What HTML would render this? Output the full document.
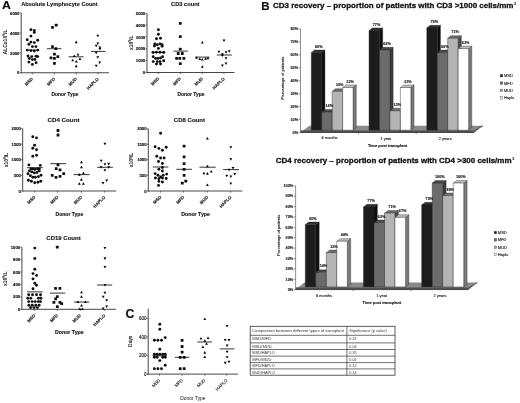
<!DOCTYPE html><html><head><meta charset="utf-8"><style>html,body{margin:0;padding:0;background:#fff;}svg{display:block;will-change:transform;filter:blur(0.3px);}.b{stroke:#111;stroke-width:0.12px;}.T{stroke:#111;stroke-width:0.3px;}.L{stroke:#000;stroke-width:0.15px;}.m{stroke:#111;stroke-width:0.1px;}</style></head><body>
<svg width="520" height="403" viewBox="0 0 520 403" font-family='"Liberation Sans", sans-serif' fill="#111">
<rect x="0" y="0" width="520" height="403" fill="#fff"/>
<text x="1.9" y="8.9" font-size="11" font-weight="bold" class="L" textLength="8.9" lengthAdjust="spacingAndGlyphs">A</text>
<text x="261.2" y="9.6" font-size="10.7" font-weight="bold" class="L" textLength="8.3" lengthAdjust="spacingAndGlyphs">B</text>
<text x="125.4" y="318.0" font-size="12.2" font-weight="bold" class="L">C</text>
<line x1="21.20" y1="12.90" x2="21.20" y2="73.15" stroke="#333" stroke-width="0.9"/>
<line x1="20.80" y1="72.75" x2="109.00" y2="72.75" stroke="#333" stroke-width="0.9"/>
<line x1="19.60" y1="12.90" x2="21.20" y2="12.90" stroke="#333" stroke-width="0.7"/>
<text x="19.40" y="14.50" font-size="4.2" text-anchor="end" font-weight="bold" class="b" fill="#000">6000</text>
<line x1="19.60" y1="33.00" x2="21.20" y2="33.00" stroke="#333" stroke-width="0.7"/>
<text x="19.40" y="34.60" font-size="4.2" text-anchor="end" font-weight="bold" class="b" fill="#000">4000</text>
<line x1="19.60" y1="52.90" x2="21.20" y2="52.90" stroke="#333" stroke-width="0.7"/>
<text x="19.40" y="54.50" font-size="4.2" text-anchor="end" font-weight="bold" class="b" fill="#000">2000</text>
<line x1="19.60" y1="72.75" x2="21.20" y2="72.75" stroke="#333" stroke-width="0.7"/>
<text x="19.40" y="74.35" font-size="4.2" text-anchor="end" font-weight="bold" class="b" fill="#000">0</text>
<line x1="32.30" y1="72.75" x2="32.30" y2="74.35" stroke="#333" stroke-width="0.7"/>
<text x="33.30" y="79.35" font-size="4.3" text-anchor="end" font-weight="bold" class="b" transform="rotate(-45 33.30 79.35)">MSD</text>
<line x1="54.40" y1="72.75" x2="54.40" y2="74.35" stroke="#333" stroke-width="0.7"/>
<text x="55.40" y="79.35" font-size="4.3" text-anchor="end" font-weight="bold" class="b" transform="rotate(-45 55.40 79.35)">MFD</text>
<line x1="76.20" y1="72.75" x2="76.20" y2="74.35" stroke="#333" stroke-width="0.7"/>
<text x="77.20" y="79.35" font-size="4.3" text-anchor="end" font-weight="bold" class="b" transform="rotate(-45 77.20 79.35)">MUD</text>
<line x1="98.10" y1="72.75" x2="98.10" y2="74.35" stroke="#333" stroke-width="0.7"/>
<text x="99.10" y="79.35" font-size="4.3" text-anchor="end" font-weight="bold" class="b" transform="rotate(-45 99.10 79.35)">HAPLO</text>
<text x="21.20" y="6.20" font-size="6" text-anchor="start" font-weight="bold" class="b" textLength="76.50" lengthAdjust="spacingAndGlyphs">Absolute Lymphocyte Count</text>
<text x="0" y="0" font-size="4.6" font-weight="bold" text-anchor="middle" textLength="25.00" lengthAdjust="spacingAndGlyphs" transform="translate(6.60 42.00) rotate(-90)">ALCx10<tspan font-size="3" dy="-1.6">9</tspan><tspan dy="1.6">/L</tspan></text>
<text x="51.50" y="96.00" font-size="5.2" text-anchor="start" font-weight="bold" class="b" textLength="27.00" lengthAdjust="spacingAndGlyphs">Donor Type</text>
<circle cx="30.90" cy="29.70" r="1.45"/>
<circle cx="34.30" cy="30.50" r="1.45"/>
<circle cx="34.30" cy="32.40" r="1.45"/>
<circle cx="30.90" cy="36.10" r="1.45"/>
<circle cx="27.20" cy="39.80" r="1.45"/>
<circle cx="30.90" cy="42.10" r="1.45"/>
<circle cx="34.30" cy="42.60" r="1.45"/>
<circle cx="37.70" cy="40.20" r="1.45"/>
<circle cx="28.90" cy="44.20" r="1.45"/>
<circle cx="32.40" cy="46.60" r="1.45"/>
<circle cx="35.90" cy="46.60" r="1.45"/>
<circle cx="27.20" cy="50.10" r="1.45"/>
<circle cx="30.90" cy="50.60" r="1.45"/>
<circle cx="34.30" cy="51.00" r="1.45"/>
<circle cx="37.70" cy="50.10" r="1.45"/>
<circle cx="28.00" cy="56.00" r="1.45"/>
<circle cx="31.80" cy="56.60" r="1.45"/>
<circle cx="36.10" cy="56.20" r="1.45"/>
<circle cx="37.70" cy="56.60" r="1.45"/>
<circle cx="29.30" cy="58.40" r="1.45"/>
<circle cx="32.40" cy="59.60" r="1.45"/>
<circle cx="34.90" cy="59.40" r="1.45"/>
<circle cx="28.90" cy="62.10" r="1.45"/>
<circle cx="32.40" cy="64.40" r="1.45"/>
<circle cx="36.10" cy="62.80" r="1.45"/>
<rect x="51.10" y="26.00" width="2.80" height="2.80" rx="0.5"/>
<rect x="54.80" y="23.80" width="2.80" height="2.80" rx="0.5"/>
<rect x="51.10" y="45.20" width="2.80" height="2.80" rx="0.5"/>
<rect x="54.50" y="47.30" width="2.80" height="2.80" rx="0.5"/>
<rect x="53.00" y="52.70" width="2.80" height="2.80" rx="0.5"/>
<rect x="49.60" y="56.40" width="2.80" height="2.80" rx="0.5"/>
<rect x="56.40" y="55.20" width="2.80" height="2.80" rx="0.5"/>
<rect x="53.00" y="57.00" width="2.80" height="2.80" rx="0.5"/>
<rect x="53.00" y="62.00" width="2.80" height="2.80" rx="0.5"/>
<polygon points="76.20,40.60 77.62,43.15 74.78,43.15" fill="#000"/>
<polygon points="74.30,54.40 75.72,56.95 72.88,56.95" fill="#000"/>
<polygon points="78.00,52.90 79.42,55.45 76.58,55.45" fill="#000"/>
<polygon points="72.70,58.80 74.12,61.35 71.28,61.35" fill="#000"/>
<polygon points="76.40,60.00 77.83,62.55 74.98,62.55" fill="#000"/>
<polygon points="79.90,57.50 81.33,60.05 78.48,60.05" fill="#000"/>
<polygon points="76.20,64.60 77.62,67.15 74.78,67.15" fill="#000"/>
<polygon points="97.80,37.20 99.22,34.65 96.38,34.65" fill="#000"/>
<polygon points="97.80,45.00 99.22,42.45 96.38,42.45" fill="#000"/>
<polygon points="96.20,47.30 97.62,44.75 94.78,44.75" fill="#000"/>
<polygon points="99.90,49.00 101.33,46.45 98.48,46.45" fill="#000"/>
<polygon points="99.90,50.60 101.33,48.05 98.48,48.05" fill="#000"/>
<polygon points="96.20,54.30 97.62,51.75 94.78,51.75" fill="#000"/>
<polygon points="97.80,58.70 99.22,56.15 96.38,56.15" fill="#000"/>
<polygon points="99.70,64.00 101.12,61.45 98.28,61.45" fill="#000"/>
<polygon points="96.20,67.30 97.62,64.75 94.78,64.75" fill="#000"/>
<line x1="26.00" y1="50.10" x2="39.20" y2="50.10" stroke="#000" stroke-width="0.8"/>
<line x1="47.00" y1="48.70" x2="61.50" y2="48.70" stroke="#000" stroke-width="0.8"/>
<line x1="68.70" y1="56.80" x2="83.60" y2="56.80" stroke="#000" stroke-width="0.8"/>
<line x1="91.00" y1="51.40" x2="105.60" y2="51.40" stroke="#000" stroke-width="0.8"/>
<line x1="147.00" y1="13.40" x2="147.00" y2="72.90" stroke="#333" stroke-width="0.9"/>
<line x1="146.60" y1="72.50" x2="234.50" y2="72.50" stroke="#333" stroke-width="0.9"/>
<line x1="145.40" y1="13.40" x2="147.00" y2="13.40" stroke="#333" stroke-width="0.7"/>
<text x="145.20" y="15.00" font-size="4.2" text-anchor="end" font-weight="bold" class="b" fill="#000">5000</text>
<line x1="145.40" y1="25.20" x2="147.00" y2="25.20" stroke="#333" stroke-width="0.7"/>
<text x="145.20" y="26.80" font-size="4.2" text-anchor="end" font-weight="bold" class="b" fill="#000">4000</text>
<line x1="145.40" y1="37.00" x2="147.00" y2="37.00" stroke="#333" stroke-width="0.7"/>
<text x="145.20" y="38.60" font-size="4.2" text-anchor="end" font-weight="bold" class="b" fill="#000">3000</text>
<line x1="145.40" y1="48.80" x2="147.00" y2="48.80" stroke="#333" stroke-width="0.7"/>
<text x="145.20" y="50.40" font-size="4.2" text-anchor="end" font-weight="bold" class="b" fill="#000">2000</text>
<line x1="145.40" y1="60.60" x2="147.00" y2="60.60" stroke="#333" stroke-width="0.7"/>
<text x="145.20" y="62.20" font-size="4.2" text-anchor="end" font-weight="bold" class="b" fill="#000">1000</text>
<line x1="145.40" y1="72.40" x2="147.00" y2="72.40" stroke="#333" stroke-width="0.7"/>
<text x="145.20" y="74.00" font-size="4.2" text-anchor="end" font-weight="bold" class="b" fill="#000">0</text>
<line x1="158.40" y1="72.50" x2="158.40" y2="74.10" stroke="#333" stroke-width="0.7"/>
<text x="159.40" y="79.10" font-size="4.3" text-anchor="end" font-weight="bold" class="b" transform="rotate(-45 159.40 79.10)">MSD</text>
<line x1="180.30" y1="72.50" x2="180.30" y2="74.10" stroke="#333" stroke-width="0.7"/>
<text x="181.30" y="79.10" font-size="4.3" text-anchor="end" font-weight="bold" class="b" transform="rotate(-45 181.30 79.10)">MFD</text>
<line x1="202.30" y1="72.50" x2="202.30" y2="74.10" stroke="#333" stroke-width="0.7"/>
<text x="203.30" y="79.10" font-size="4.3" text-anchor="end" font-weight="bold" class="b" transform="rotate(-45 203.30 79.10)">MUD</text>
<line x1="224.00" y1="72.50" x2="224.00" y2="74.10" stroke="#333" stroke-width="0.7"/>
<text x="225.00" y="79.10" font-size="4.3" text-anchor="end" font-weight="bold" class="b" transform="rotate(-45 225.00 79.10)">HAPLO</text>
<text x="171.10" y="6.20" font-size="6" text-anchor="start" font-weight="bold" class="b" textLength="28.40" lengthAdjust="spacingAndGlyphs">CD3 count</text>
<text x="0" y="0" font-size="4.6" font-weight="bold" text-anchor="middle" textLength="14.50" lengthAdjust="spacingAndGlyphs" transform="translate(133.00 42.80) rotate(-90)">x10<tspan font-size="3" dy="-1.6">9</tspan><tspan dy="1.6">/L</tspan></text>
<text x="177.50" y="96.00" font-size="5.2" text-anchor="start" font-weight="bold" class="b" textLength="27.00" lengthAdjust="spacingAndGlyphs">Donor Type</text>
<circle cx="158.40" cy="29.70" r="1.45"/>
<circle cx="158.40" cy="34.20" r="1.45"/>
<circle cx="156.50" cy="38.70" r="1.45"/>
<circle cx="160.50" cy="38.20" r="1.45"/>
<circle cx="154.80" cy="43.90" r="1.45"/>
<circle cx="157.30" cy="44.70" r="1.45"/>
<circle cx="160.00" cy="43.90" r="1.45"/>
<circle cx="162.10" cy="44.70" r="1.45"/>
<circle cx="154.50" cy="46.00" r="1.45"/>
<circle cx="162.10" cy="46.30" r="1.45"/>
<circle cx="158.40" cy="48.40" r="1.45"/>
<circle cx="153.20" cy="52.50" r="1.45"/>
<circle cx="156.50" cy="52.30" r="1.45"/>
<circle cx="160.00" cy="52.30" r="1.45"/>
<circle cx="163.70" cy="52.50" r="1.45"/>
<circle cx="153.20" cy="56.80" r="1.45"/>
<circle cx="155.60" cy="58.40" r="1.45"/>
<circle cx="158.00" cy="58.40" r="1.45"/>
<circle cx="160.50" cy="58.00" r="1.45"/>
<circle cx="162.60" cy="56.80" r="1.45"/>
<circle cx="153.20" cy="61.60" r="1.45"/>
<circle cx="157.30" cy="61.60" r="1.45"/>
<circle cx="160.00" cy="61.60" r="1.45"/>
<circle cx="163.70" cy="60.80" r="1.45"/>
<circle cx="156.50" cy="64.00" r="1.45"/>
<circle cx="160.50" cy="64.00" r="1.45"/>
<rect x="178.90" y="22.00" width="2.80" height="2.80" rx="0.5"/>
<rect x="178.90" y="35.20" width="2.80" height="2.80" rx="0.5"/>
<rect x="178.90" y="47.80" width="2.80" height="2.80" rx="0.5"/>
<rect x="176.80" y="52.10" width="2.80" height="2.80" rx="0.5"/>
<rect x="180.90" y="52.10" width="2.80" height="2.80" rx="0.5"/>
<rect x="175.20" y="57.00" width="2.80" height="2.80" rx="0.5"/>
<rect x="178.40" y="57.00" width="2.80" height="2.80" rx="0.5"/>
<rect x="182.50" y="57.00" width="2.80" height="2.80" rx="0.5"/>
<rect x="178.90" y="62.30" width="2.80" height="2.80" rx="0.5"/>
<polygon points="202.30,40.90 203.73,43.45 200.88,43.45" fill="#000"/>
<polygon points="196.60,56.20 198.03,58.75 195.17,58.75" fill="#000"/>
<polygon points="199.80,57.50 201.23,60.05 198.38,60.05" fill="#000"/>
<polygon points="202.30,58.00 203.73,60.55 200.88,60.55" fill="#000"/>
<polygon points="205.50,57.20 206.93,59.75 204.07,59.75" fill="#000"/>
<polygon points="207.90,56.70 209.33,59.25 206.47,59.25" fill="#000"/>
<polygon points="202.30,65.30 203.73,67.85 200.88,67.85" fill="#000"/>
<polygon points="224.00,42.00 225.43,39.45 222.57,39.45" fill="#000"/>
<polygon points="218.90,53.30 220.33,50.75 217.47,50.75" fill="#000"/>
<polygon points="226.00,53.80 227.43,51.25 224.57,51.25" fill="#000"/>
<polygon points="229.20,52.80 230.62,50.25 227.77,50.25" fill="#000"/>
<polygon points="222.40,55.70 223.83,53.15 220.97,53.15" fill="#000"/>
<polygon points="222.40,57.00 223.83,54.45 220.97,54.45" fill="#000"/>
<polygon points="226.00,59.70 227.43,57.15 224.57,57.15" fill="#000"/>
<polygon points="226.00,65.00 227.43,62.45 224.57,62.45" fill="#000"/>
<polygon points="222.40,67.00 223.83,64.45 220.97,64.45" fill="#000"/>
<line x1="151.30" y1="52.30" x2="165.30" y2="52.30" stroke="#000" stroke-width="0.8"/>
<line x1="173.40" y1="51.10" x2="187.90" y2="51.10" stroke="#000" stroke-width="0.8"/>
<line x1="195.00" y1="57.10" x2="209.50" y2="57.10" stroke="#000" stroke-width="0.8"/>
<line x1="216.80" y1="55.00" x2="231.80" y2="55.00" stroke="#000" stroke-width="0.8"/>
<line x1="22.70" y1="128.70" x2="22.70" y2="191.40" stroke="#333" stroke-width="0.9"/>
<line x1="22.30" y1="191.00" x2="116.20" y2="191.00" stroke="#333" stroke-width="0.9"/>
<line x1="21.10" y1="128.70" x2="22.70" y2="128.70" stroke="#333" stroke-width="0.7"/>
<text x="20.90" y="130.30" font-size="4.2" text-anchor="end" font-weight="bold" class="b" fill="#000">2000</text>
<line x1="21.10" y1="144.20" x2="22.70" y2="144.20" stroke="#333" stroke-width="0.7"/>
<text x="20.90" y="145.80" font-size="4.2" text-anchor="end" font-weight="bold" class="b" fill="#000">1500</text>
<line x1="21.10" y1="159.70" x2="22.70" y2="159.70" stroke="#333" stroke-width="0.7"/>
<text x="20.90" y="161.30" font-size="4.2" text-anchor="end" font-weight="bold" class="b" fill="#000">1000</text>
<line x1="21.10" y1="175.30" x2="22.70" y2="175.30" stroke="#333" stroke-width="0.7"/>
<text x="20.90" y="176.90" font-size="4.2" text-anchor="end" font-weight="bold" class="b" fill="#000">500</text>
<line x1="21.10" y1="191.00" x2="22.70" y2="191.00" stroke="#333" stroke-width="0.7"/>
<text x="20.90" y="192.60" font-size="4.2" text-anchor="end" font-weight="bold" class="b" fill="#000">0</text>
<line x1="34.70" y1="191.00" x2="34.70" y2="192.60" stroke="#333" stroke-width="0.7"/>
<text x="35.70" y="197.60" font-size="4.3" text-anchor="end" font-weight="bold" class="b" transform="rotate(-45 35.70 197.60)">MSD</text>
<line x1="57.70" y1="191.00" x2="57.70" y2="192.60" stroke="#333" stroke-width="0.7"/>
<text x="58.70" y="197.60" font-size="4.3" text-anchor="end" font-weight="bold" class="b" transform="rotate(-45 58.70 197.60)">MFD</text>
<line x1="81.40" y1="191.00" x2="81.40" y2="192.60" stroke="#333" stroke-width="0.7"/>
<text x="82.40" y="197.60" font-size="4.3" text-anchor="end" font-weight="bold" class="b" transform="rotate(-45 82.40 197.60)">MUD</text>
<line x1="104.60" y1="191.00" x2="104.60" y2="192.60" stroke="#333" stroke-width="0.7"/>
<text x="105.60" y="197.60" font-size="4.3" text-anchor="end" font-weight="bold" class="b" transform="rotate(-45 105.60 197.60)">HAPLO</text>
<text x="47.50" y="121.90" font-size="6" text-anchor="start" font-weight="bold" class="b" textLength="32.00" lengthAdjust="spacingAndGlyphs">CD4 Count</text>
<text x="0" y="0" font-size="4.6" font-weight="bold" text-anchor="middle" textLength="14.50" lengthAdjust="spacingAndGlyphs" transform="translate(7.60 160.10) rotate(-90)">x10<tspan font-size="3" dy="-1.6">9</tspan><tspan dy="1.6">/L</tspan></text>
<text x="55.50" y="215.70" font-size="5.2" text-anchor="start" font-weight="bold" class="b" textLength="27.70" lengthAdjust="spacingAndGlyphs">Donor Type</text>
<circle cx="32.80" cy="136.70" r="1.45"/>
<circle cx="36.50" cy="137.90" r="1.45"/>
<circle cx="34.60" cy="145.30" r="1.45"/>
<circle cx="32.80" cy="148.30" r="1.45"/>
<circle cx="36.50" cy="149.80" r="1.45"/>
<circle cx="32.80" cy="156.20" r="1.45"/>
<circle cx="36.50" cy="155.20" r="1.45"/>
<circle cx="28.90" cy="164.90" r="1.45"/>
<circle cx="40.30" cy="165.40" r="1.45"/>
<circle cx="30.90" cy="168.90" r="1.45"/>
<circle cx="32.90" cy="168.90" r="1.45"/>
<circle cx="34.90" cy="169.40" r="1.45"/>
<circle cx="37.40" cy="168.90" r="1.45"/>
<circle cx="39.30" cy="168.90" r="1.45"/>
<circle cx="29.40" cy="170.90" r="1.45"/>
<circle cx="31.90" cy="171.90" r="1.45"/>
<circle cx="34.40" cy="172.90" r="1.45"/>
<circle cx="36.90" cy="172.40" r="1.45"/>
<circle cx="39.30" cy="170.90" r="1.45"/>
<circle cx="27.90" cy="173.80" r="1.45"/>
<circle cx="30.40" cy="175.80" r="1.45"/>
<circle cx="32.90" cy="177.30" r="1.45"/>
<circle cx="35.40" cy="177.30" r="1.45"/>
<circle cx="38.40" cy="176.80" r="1.45"/>
<circle cx="41.00" cy="175.30" r="1.45"/>
<circle cx="28.40" cy="180.30" r="1.45"/>
<circle cx="31.40" cy="181.30" r="1.45"/>
<circle cx="34.70" cy="182.80" r="1.45"/>
<circle cx="37.90" cy="182.30" r="1.45"/>
<circle cx="40.80" cy="181.30" r="1.45"/>
<rect x="56.60" y="129.10" width="2.80" height="2.80" rx="0.5"/>
<rect x="56.60" y="133.60" width="2.80" height="2.80" rx="0.5"/>
<rect x="56.60" y="163.50" width="2.80" height="2.80" rx="0.5"/>
<rect x="54.80" y="167.30" width="2.80" height="2.80" rx="0.5"/>
<rect x="58.60" y="168.50" width="2.80" height="2.80" rx="0.5"/>
<rect x="62.30" y="172.30" width="2.80" height="2.80" rx="0.5"/>
<rect x="50.80" y="173.90" width="2.80" height="2.80" rx="0.5"/>
<rect x="54.60" y="175.90" width="2.80" height="2.80" rx="0.5"/>
<rect x="58.60" y="174.90" width="2.80" height="2.80" rx="0.5"/>
<polygon points="81.40,160.80 82.83,163.35 79.98,163.35" fill="#000"/>
<polygon points="81.40,165.80 82.83,168.35 79.98,168.35" fill="#000"/>
<polygon points="83.40,171.70 84.83,174.25 81.98,174.25" fill="#000"/>
<polygon points="79.30,173.10 80.72,175.65 77.88,175.65" fill="#000"/>
<polygon points="81.40,178.10 82.83,180.65 79.98,180.65" fill="#000"/>
<polygon points="79.30,182.20 80.72,184.75 77.88,184.75" fill="#000"/>
<polygon points="83.40,182.20 84.83,184.75 81.98,184.75" fill="#000"/>
<polygon points="104.90,145.30 106.33,142.75 103.48,142.75" fill="#000"/>
<polygon points="101.20,162.30 102.62,159.75 99.78,159.75" fill="#000"/>
<polygon points="104.90,165.80 106.33,163.25 103.48,163.25" fill="#000"/>
<polygon points="108.70,165.40 110.12,162.85 107.28,162.85" fill="#000"/>
<polygon points="101.20,168.80 102.62,166.25 99.78,166.25" fill="#000"/>
<polygon points="108.70,168.80 110.12,166.25 107.28,166.25" fill="#000"/>
<polygon points="104.90,171.80 106.33,169.25 103.48,169.25" fill="#000"/>
<polygon points="106.70,182.10 108.12,179.55 105.28,179.55" fill="#000"/>
<polygon points="103.00,184.50 104.42,181.95 101.58,181.95" fill="#000"/>
<line x1="27.00" y1="167.70" x2="42.80" y2="167.70" stroke="#000" stroke-width="0.8"/>
<line x1="50.30" y1="163.70" x2="66.10" y2="163.70" stroke="#000" stroke-width="0.8"/>
<line x1="73.50" y1="174.60" x2="89.60" y2="174.60" stroke="#000" stroke-width="0.8"/>
<line x1="97.10" y1="167.30" x2="112.80" y2="167.30" stroke="#000" stroke-width="0.8"/>
<line x1="148.30" y1="128.70" x2="148.30" y2="191.40" stroke="#333" stroke-width="0.9"/>
<line x1="147.90" y1="191.00" x2="242.30" y2="191.00" stroke="#333" stroke-width="0.9"/>
<line x1="146.70" y1="128.70" x2="148.30" y2="128.70" stroke="#333" stroke-width="0.7"/>
<text x="146.50" y="130.30" font-size="4.2" text-anchor="end" font-weight="bold" class="b" fill="#000">2000</text>
<line x1="146.70" y1="144.20" x2="148.30" y2="144.20" stroke="#333" stroke-width="0.7"/>
<text x="146.50" y="145.80" font-size="4.2" text-anchor="end" font-weight="bold" class="b" fill="#000">1500</text>
<line x1="146.70" y1="159.70" x2="148.30" y2="159.70" stroke="#333" stroke-width="0.7"/>
<text x="146.50" y="161.30" font-size="4.2" text-anchor="end" font-weight="bold" class="b" fill="#000">1000</text>
<line x1="146.70" y1="175.30" x2="148.30" y2="175.30" stroke="#333" stroke-width="0.7"/>
<text x="146.50" y="176.90" font-size="4.2" text-anchor="end" font-weight="bold" class="b" fill="#000">500</text>
<line x1="146.70" y1="191.00" x2="148.30" y2="191.00" stroke="#333" stroke-width="0.7"/>
<text x="146.50" y="192.60" font-size="4.2" text-anchor="end" font-weight="bold" class="b" fill="#000">0</text>
<line x1="160.60" y1="191.00" x2="160.60" y2="192.60" stroke="#333" stroke-width="0.7"/>
<text x="161.60" y="197.60" font-size="4.3" text-anchor="end" font-weight="bold" class="b" transform="rotate(-45 161.60 197.60)">MSD</text>
<line x1="183.50" y1="191.00" x2="183.50" y2="192.60" stroke="#333" stroke-width="0.7"/>
<text x="184.50" y="197.60" font-size="4.3" text-anchor="end" font-weight="bold" class="b" transform="rotate(-45 184.50 197.60)">MFD</text>
<line x1="207.40" y1="191.00" x2="207.40" y2="192.60" stroke="#333" stroke-width="0.7"/>
<text x="208.40" y="197.60" font-size="4.3" text-anchor="end" font-weight="bold" class="b" transform="rotate(-45 208.40 197.60)">MUD</text>
<line x1="230.80" y1="191.00" x2="230.80" y2="192.60" stroke="#333" stroke-width="0.7"/>
<text x="231.80" y="197.60" font-size="4.3" text-anchor="end" font-weight="bold" class="b" transform="rotate(-45 231.80 197.60)">HAPLO</text>
<text x="173.80" y="121.90" font-size="6" text-anchor="start" font-weight="bold" class="b" textLength="31.20" lengthAdjust="spacingAndGlyphs">CD8 Count</text>
<text x="0" y="0" font-size="4.6" font-weight="bold" text-anchor="middle" textLength="14.50" lengthAdjust="spacingAndGlyphs" transform="translate(133.40 160.00) rotate(-90)">x10<tspan font-size="3" dy="-1.6">9</tspan><tspan dy="1.6">/L</tspan></text>
<text x="181.20" y="215.70" font-size="5.2" text-anchor="start" font-weight="bold" class="b" textLength="28.80" lengthAdjust="spacingAndGlyphs">Donor Type</text>
<circle cx="160.60" cy="133.30" r="1.45"/>
<circle cx="155.10" cy="146.70" r="1.45"/>
<circle cx="158.90" cy="148.40" r="1.45"/>
<circle cx="162.40" cy="150.20" r="1.45"/>
<circle cx="166.20" cy="147.20" r="1.45"/>
<circle cx="156.80" cy="156.30" r="1.45"/>
<circle cx="160.60" cy="158.00" r="1.45"/>
<circle cx="164.10" cy="158.00" r="1.45"/>
<circle cx="158.50" cy="161.50" r="1.45"/>
<circle cx="162.40" cy="163.50" r="1.45"/>
<circle cx="162.40" cy="167.50" r="1.45"/>
<circle cx="158.90" cy="169.30" r="1.45"/>
<circle cx="162.40" cy="171.00" r="1.45"/>
<circle cx="155.10" cy="173.60" r="1.45"/>
<circle cx="158.00" cy="175.30" r="1.45"/>
<circle cx="160.60" cy="177.00" r="1.45"/>
<circle cx="163.20" cy="175.30" r="1.45"/>
<circle cx="166.70" cy="174.10" r="1.45"/>
<circle cx="155.40" cy="178.00" r="1.45"/>
<circle cx="158.90" cy="178.80" r="1.45"/>
<circle cx="162.40" cy="178.00" r="1.45"/>
<circle cx="166.20" cy="178.50" r="1.45"/>
<circle cx="158.90" cy="181.40" r="1.45"/>
<circle cx="162.40" cy="182.00" r="1.45"/>
<circle cx="158.50" cy="185.40" r="1.45"/>
<rect x="182.70" y="144.80" width="2.80" height="2.80" rx="0.5"/>
<rect x="182.70" y="155.40" width="2.80" height="2.80" rx="0.5"/>
<rect x="182.70" y="162.30" width="2.80" height="2.80" rx="0.5"/>
<rect x="182.70" y="167.90" width="2.80" height="2.80" rx="0.5"/>
<rect x="182.70" y="173.90" width="2.80" height="2.80" rx="0.5"/>
<rect x="184.40" y="179.70" width="2.80" height="2.80" rx="0.5"/>
<rect x="180.90" y="181.80" width="2.80" height="2.80" rx="0.5"/>
<polygon points="207.40,136.90 208.83,139.45 205.97,139.45" fill="#000"/>
<polygon points="207.40,164.80 208.83,167.35 205.97,167.35" fill="#000"/>
<polygon points="203.90,171.80 205.33,174.35 202.47,174.35" fill="#000"/>
<polygon points="207.40,172.10 208.83,174.65 205.97,174.65" fill="#000"/>
<polygon points="211.20,170.00 212.62,172.55 209.77,172.55" fill="#000"/>
<polygon points="207.40,183.40 208.83,185.95 205.97,185.95" fill="#000"/>
<polygon points="230.80,148.70 232.23,146.15 229.38,146.15" fill="#000"/>
<polygon points="230.80,160.70 232.23,158.15 229.38,158.15" fill="#000"/>
<polygon points="233.00,169.50 234.43,166.95 231.57,166.95" fill="#000"/>
<polygon points="229.10,171.30 230.53,168.75 227.67,168.75" fill="#000"/>
<polygon points="226.80,177.20 228.23,174.65 225.38,174.65" fill="#000"/>
<polygon points="230.80,178.10 232.23,175.55 229.38,175.55" fill="#000"/>
<polygon points="234.80,175.60 236.23,173.05 233.38,173.05" fill="#000"/>
<polygon points="230.80,185.00 232.23,182.45 229.38,182.45" fill="#000"/>
<line x1="152.80" y1="167.00" x2="168.40" y2="167.00" stroke="#000" stroke-width="0.8"/>
<line x1="176.30" y1="169.30" x2="191.90" y2="169.30" stroke="#000" stroke-width="0.8"/>
<line x1="199.50" y1="167.20" x2="215.70" y2="167.20" stroke="#000" stroke-width="0.8"/>
<line x1="223.00" y1="169.60" x2="239.00" y2="169.60" stroke="#000" stroke-width="0.8"/>
<line x1="21.90" y1="247.20" x2="21.90" y2="309.70" stroke="#333" stroke-width="0.9"/>
<line x1="21.50" y1="309.30" x2="116.00" y2="309.30" stroke="#333" stroke-width="0.9"/>
<line x1="20.30" y1="247.20" x2="21.90" y2="247.20" stroke="#333" stroke-width="0.7"/>
<text x="20.10" y="248.80" font-size="4.2" text-anchor="end" font-weight="bold" class="b" fill="#000">1000</text>
<line x1="20.30" y1="259.62" x2="21.90" y2="259.62" stroke="#333" stroke-width="0.7"/>
<text x="20.10" y="261.22" font-size="4.2" text-anchor="end" font-weight="bold" class="b" fill="#000">800</text>
<line x1="20.30" y1="272.04" x2="21.90" y2="272.04" stroke="#333" stroke-width="0.7"/>
<text x="20.10" y="273.64" font-size="4.2" text-anchor="end" font-weight="bold" class="b" fill="#000">600</text>
<line x1="20.30" y1="284.46" x2="21.90" y2="284.46" stroke="#333" stroke-width="0.7"/>
<text x="20.10" y="286.06" font-size="4.2" text-anchor="end" font-weight="bold" class="b" fill="#000">400</text>
<line x1="20.30" y1="296.88" x2="21.90" y2="296.88" stroke="#333" stroke-width="0.7"/>
<text x="20.10" y="298.48" font-size="4.2" text-anchor="end" font-weight="bold" class="b" fill="#000">200</text>
<line x1="20.30" y1="309.30" x2="21.90" y2="309.30" stroke="#333" stroke-width="0.7"/>
<text x="20.10" y="310.90" font-size="4.2" text-anchor="end" font-weight="bold" class="b" fill="#000">0</text>
<line x1="34.80" y1="309.30" x2="34.80" y2="310.90" stroke="#333" stroke-width="0.7"/>
<text x="35.80" y="315.90" font-size="4.3" text-anchor="end" font-weight="bold" class="b" transform="rotate(-45 35.80 315.90)">MSD</text>
<line x1="57.30" y1="309.30" x2="57.30" y2="310.90" stroke="#333" stroke-width="0.7"/>
<text x="58.30" y="315.90" font-size="4.3" text-anchor="end" font-weight="bold" class="b" transform="rotate(-45 58.30 315.90)">MFD</text>
<line x1="80.30" y1="309.30" x2="80.30" y2="310.90" stroke="#333" stroke-width="0.7"/>
<text x="81.30" y="315.90" font-size="4.3" text-anchor="end" font-weight="bold" class="b" transform="rotate(-45 81.30 315.90)">MUD</text>
<line x1="104.60" y1="309.30" x2="104.60" y2="310.90" stroke="#333" stroke-width="0.7"/>
<text x="105.60" y="315.90" font-size="4.3" text-anchor="end" font-weight="bold" class="b" transform="rotate(-45 105.60 315.90)">HAPLO</text>
<text x="46.30" y="239.90" font-size="6" text-anchor="start" font-weight="bold" class="b" textLength="34.40" lengthAdjust="spacingAndGlyphs">CD19 Count</text>
<text x="0" y="0" font-size="4.6" font-weight="bold" text-anchor="middle" textLength="14.50" lengthAdjust="spacingAndGlyphs" transform="translate(6.60 278.80) rotate(-90)">x10<tspan font-size="3" dy="-1.6">9</tspan><tspan dy="1.6">/L</tspan></text>
<text x="55.00" y="334.20" font-size="5.2" text-anchor="start" font-weight="bold" class="b" textLength="28.70" lengthAdjust="spacingAndGlyphs">Donor Type</text>
<circle cx="34.80" cy="248.10" r="1.45"/>
<circle cx="34.80" cy="258.50" r="1.45"/>
<circle cx="34.80" cy="269.30" r="1.45"/>
<circle cx="33.00" cy="273.60" r="1.45"/>
<circle cx="36.50" cy="275.40" r="1.45"/>
<circle cx="33.00" cy="278.90" r="1.45"/>
<circle cx="34.80" cy="283.20" r="1.45"/>
<circle cx="36.50" cy="285.30" r="1.45"/>
<circle cx="33.00" cy="288.80" r="1.45"/>
<circle cx="28.70" cy="294.80" r="1.45"/>
<circle cx="32.50" cy="294.80" r="1.45"/>
<circle cx="36.50" cy="294.80" r="1.45"/>
<circle cx="40.50" cy="294.80" r="1.45"/>
<circle cx="27.80" cy="298.20" r="1.45"/>
<circle cx="30.80" cy="298.20" r="1.45"/>
<circle cx="38.40" cy="298.20" r="1.45"/>
<circle cx="40.90" cy="298.20" r="1.45"/>
<circle cx="28.70" cy="301.60" r="1.45"/>
<circle cx="32.20" cy="301.60" r="1.45"/>
<circle cx="35.20" cy="301.60" r="1.45"/>
<circle cx="38.40" cy="301.60" r="1.45"/>
<circle cx="40.50" cy="301.60" r="1.45"/>
<circle cx="28.90" cy="305.20" r="1.45"/>
<circle cx="32.20" cy="305.20" r="1.45"/>
<circle cx="35.80" cy="305.20" r="1.45"/>
<circle cx="39.10" cy="305.20" r="1.45"/>
<circle cx="30.60" cy="307.60" r="1.45"/>
<circle cx="34.00" cy="307.60" r="1.45"/>
<circle cx="37.40" cy="307.60" r="1.45"/>
<rect x="55.90" y="245.70" width="2.80" height="2.80" rx="0.5"/>
<rect x="54.20" y="287.00" width="2.80" height="2.80" rx="0.5"/>
<rect x="58.50" y="287.00" width="2.80" height="2.80" rx="0.5"/>
<rect x="55.90" y="295.20" width="2.80" height="2.80" rx="0.5"/>
<rect x="54.20" y="297.40" width="2.80" height="2.80" rx="0.5"/>
<rect x="52.50" y="300.90" width="2.80" height="2.80" rx="0.5"/>
<rect x="58.50" y="300.90" width="2.80" height="2.80" rx="0.5"/>
<rect x="60.30" y="302.30" width="2.80" height="2.80" rx="0.5"/>
<rect x="55.90" y="305.20" width="2.80" height="2.80" rx="0.5"/>
<polygon points="81.50,290.70 82.92,293.25 80.08,293.25" fill="#000"/>
<polygon points="81.50,295.20 82.92,297.75 80.08,297.75" fill="#000"/>
<polygon points="78.00,300.50 79.42,303.05 76.58,303.05" fill="#000"/>
<polygon points="85.50,300.50 86.92,303.05 84.08,303.05" fill="#000"/>
<polygon points="81.50,303.90 82.92,306.45 80.08,306.45" fill="#000"/>
<polygon points="79.80,307.50 81.22,310.05 78.38,310.05" fill="#000"/>
<polygon points="82.40,307.50 83.83,310.05 80.98,310.05" fill="#000"/>
<polygon points="104.90,249.50 106.33,246.95 103.48,246.95" fill="#000"/>
<polygon points="104.90,259.90 106.33,257.35 103.48,257.35" fill="#000"/>
<polygon points="104.90,268.50 106.33,265.95 103.48,265.95" fill="#000"/>
<polygon points="104.90,286.50 106.33,283.95 103.48,283.95" fill="#000"/>
<polygon points="104.90,294.20 106.33,291.65 103.48,291.65" fill="#000"/>
<polygon points="103.20,298.20 104.62,295.65 101.78,295.65" fill="#000"/>
<polygon points="106.70,301.70 108.12,299.15 105.28,299.15" fill="#000"/>
<polygon points="106.70,308.10 108.12,305.55 105.28,305.55" fill="#000"/>
<polygon points="103.20,310.00 104.62,307.45 101.78,307.45" fill="#000"/>
<line x1="27.00" y1="291.90" x2="42.60" y2="291.90" stroke="#000" stroke-width="0.8"/>
<line x1="49.90" y1="293.10" x2="65.10" y2="293.10" stroke="#000" stroke-width="0.8"/>
<line x1="74.00" y1="302.00" x2="89.30" y2="302.00" stroke="#000" stroke-width="0.8"/>
<line x1="97.10" y1="285.00" x2="112.20" y2="285.00" stroke="#000" stroke-width="0.8"/>
<line x1="148.20" y1="308.70" x2="148.20" y2="374.50" stroke="#333" stroke-width="0.9"/>
<line x1="147.80" y1="374.10" x2="238.00" y2="374.10" stroke="#333" stroke-width="0.9"/>
<line x1="146.60" y1="318.40" x2="148.20" y2="318.40" stroke="#333" stroke-width="0.7"/>
<text x="146.40" y="320.00" font-size="4.5" text-anchor="end" fill="#000" class="m">600</text>
<line x1="146.60" y1="337.00" x2="148.20" y2="337.00" stroke="#333" stroke-width="0.7"/>
<text x="146.40" y="338.60" font-size="4.5" text-anchor="end" fill="#000" class="m">400</text>
<line x1="146.60" y1="355.50" x2="148.20" y2="355.50" stroke="#333" stroke-width="0.7"/>
<text x="146.40" y="357.10" font-size="4.5" text-anchor="end" fill="#000" class="m">200</text>
<line x1="146.60" y1="374.10" x2="148.20" y2="374.10" stroke="#333" stroke-width="0.7"/>
<text x="146.40" y="375.70" font-size="4.5" text-anchor="end" fill="#000" class="m">0</text>
<line x1="159.50" y1="374.10" x2="159.50" y2="375.70" stroke="#333" stroke-width="0.7"/>
<text x="160.50" y="380.70" font-size="4.3" text-anchor="end" transform="rotate(-45 160.50 380.70)" class="m">MSD</text>
<line x1="182.10" y1="374.10" x2="182.10" y2="375.70" stroke="#333" stroke-width="0.7"/>
<text x="183.10" y="380.70" font-size="4.3" text-anchor="end" transform="rotate(-45 183.10 380.70)" class="m">MFD</text>
<line x1="204.80" y1="374.10" x2="204.80" y2="375.70" stroke="#333" stroke-width="0.7"/>
<text x="205.80" y="380.70" font-size="4.3" text-anchor="end" transform="rotate(-45 205.80 380.70)" class="m">MUD</text>
<line x1="226.80" y1="374.10" x2="226.80" y2="375.70" stroke="#333" stroke-width="0.7"/>
<text x="227.80" y="380.70" font-size="4.3" text-anchor="end" transform="rotate(-45 227.80 380.70)" class="m">HAPLO</text>
<text x="180.20" y="400.30" font-size="5.2" text-anchor="start" textLength="25.40" lengthAdjust="spacingAndGlyphs">Donor Type</text>
<circle cx="159.80" cy="324.20" r="1.45"/>
<circle cx="159.80" cy="329.20" r="1.45"/>
<circle cx="154.40" cy="340.30" r="1.45"/>
<circle cx="157.90" cy="340.30" r="1.45"/>
<circle cx="161.50" cy="340.30" r="1.45"/>
<circle cx="165.20" cy="337.60" r="1.45"/>
<circle cx="159.80" cy="349.20" r="1.45"/>
<circle cx="154.40" cy="354.20" r="1.45"/>
<circle cx="157.10" cy="354.20" r="1.45"/>
<circle cx="159.80" cy="354.20" r="1.45"/>
<circle cx="162.70" cy="354.20" r="1.45"/>
<circle cx="165.20" cy="354.20" r="1.45"/>
<circle cx="154.40" cy="357.30" r="1.45"/>
<circle cx="157.10" cy="357.30" r="1.45"/>
<circle cx="162.70" cy="357.30" r="1.45"/>
<circle cx="165.20" cy="357.30" r="1.45"/>
<circle cx="159.80" cy="360.60" r="1.45"/>
<circle cx="165.20" cy="365.30" r="1.45"/>
<circle cx="154.40" cy="368.70" r="1.45"/>
<circle cx="157.90" cy="368.70" r="1.45"/>
<circle cx="161.50" cy="368.70" r="1.45"/>
<rect x="180.70" y="338.90" width="2.80" height="2.80" rx="0.5"/>
<rect x="180.70" y="345.10" width="2.80" height="2.80" rx="0.5"/>
<rect x="180.70" y="350.70" width="2.80" height="2.80" rx="0.5"/>
<rect x="178.80" y="355.90" width="2.80" height="2.80" rx="0.5"/>
<rect x="182.80" y="355.90" width="2.80" height="2.80" rx="0.5"/>
<rect x="178.80" y="367.30" width="2.80" height="2.80" rx="0.5"/>
<rect x="182.80" y="367.30" width="2.80" height="2.80" rx="0.5"/>
<polygon points="204.80,317.50 206.23,320.05 203.38,320.05" fill="#000"/>
<polygon points="201.00,336.90 202.43,339.45 199.57,339.45" fill="#000"/>
<polygon points="208.00,336.40 209.43,338.95 206.57,338.95" fill="#000"/>
<polygon points="204.80,339.30 206.23,341.85 203.38,341.85" fill="#000"/>
<polygon points="206.50,342.20 207.93,344.75 205.07,344.75" fill="#000"/>
<polygon points="202.90,345.50 204.33,348.05 201.47,348.05" fill="#000"/>
<polygon points="204.80,351.10 206.23,353.65 203.38,353.65" fill="#000"/>
<polygon points="204.80,355.50 206.23,358.05 203.38,358.05" fill="#000"/>
<polygon points="227.10,327.50 228.53,324.95 225.67,324.95" fill="#000"/>
<polygon points="225.20,341.50 226.62,338.95 223.77,338.95" fill="#000"/>
<polygon points="229.00,341.50 230.43,338.95 227.57,338.95" fill="#000"/>
<polygon points="227.10,347.10 228.53,344.55 225.67,344.55" fill="#000"/>
<polygon points="227.10,353.30 228.53,350.75 225.67,350.75" fill="#000"/>
<polygon points="227.10,358.80 228.53,356.25 225.67,356.25" fill="#000"/>
<polygon points="225.20,364.40 226.62,361.85 223.77,361.85" fill="#000"/>
<polygon points="229.00,363.30 230.43,360.75 227.57,360.75" fill="#000"/>
<line x1="152.50" y1="355.80" x2="167.00" y2="355.80" stroke="#000" stroke-width="0.8"/>
<line x1="174.80" y1="357.30" x2="189.40" y2="357.30" stroke="#000" stroke-width="0.8"/>
<line x1="197.30" y1="342.00" x2="211.80" y2="342.00" stroke="#000" stroke-width="0.8"/>
<line x1="219.80" y1="348.90" x2="234.40" y2="348.90" stroke="#000" stroke-width="0.8"/>
<text x="0" y="0" font-size="4.7" fill="#000" class="m" text-anchor="middle" textLength="11.2" lengthAdjust="spacingAndGlyphs" transform="translate(131.9 341.3) rotate(-90)">Days</text>
<polygon points="300.50,132.50 473.90,132.50 482.70,125.70 309.30,125.70" fill="#8a8a8a"/>
<polygon points="300.50,132.50 473.90,132.50 482.70,125.70 482.70,126.90 473.90,130.50 300.50,130.50" fill="#8a8a8a"/>
<polygon points="300.80,130.50 473.90,130.50 473.90,132.50 300.50,132.50" fill="#4e4e4e"/>
<polygon points="473.90,130.50 482.70,125.10 482.70,125.70 473.90,132.50" fill="#5a5a5a"/>
<line x1="300.50" y1="132.50" x2="473.90" y2="132.50" stroke="#333" stroke-width="0.7"/>
<line x1="358.30" y1="132.50" x2="358.30" y2="134.00" stroke="#333" stroke-width="0.6"/>
<line x1="416.10" y1="132.50" x2="416.10" y2="134.00" stroke="#333" stroke-width="0.6"/>
<line x1="300.50" y1="28.90" x2="300.50" y2="132.50" stroke="#555" stroke-width="0.65"/>
<line x1="298.50" y1="132.50" x2="300.50" y2="132.50" stroke="#555" stroke-width="0.6"/>
<text x="298.10" y="133.80" font-size="3.8" text-anchor="end" font-weight="bold" class="b" fill="#222">0%</text>
<line x1="298.50" y1="119.55" x2="300.50" y2="119.55" stroke="#555" stroke-width="0.6"/>
<text x="298.10" y="120.85" font-size="3.8" text-anchor="end" font-weight="bold" class="b" fill="#222">10%</text>
<line x1="298.50" y1="106.60" x2="300.50" y2="106.60" stroke="#555" stroke-width="0.6"/>
<text x="298.10" y="107.90" font-size="3.8" text-anchor="end" font-weight="bold" class="b" fill="#222">20%</text>
<line x1="298.50" y1="93.65" x2="300.50" y2="93.65" stroke="#555" stroke-width="0.6"/>
<text x="298.10" y="94.95" font-size="3.8" text-anchor="end" font-weight="bold" class="b" fill="#222">30%</text>
<line x1="298.50" y1="80.70" x2="300.50" y2="80.70" stroke="#555" stroke-width="0.6"/>
<text x="298.10" y="82.00" font-size="3.8" text-anchor="end" font-weight="bold" class="b" fill="#222">40%</text>
<line x1="298.50" y1="67.75" x2="300.50" y2="67.75" stroke="#555" stroke-width="0.6"/>
<text x="298.10" y="69.05" font-size="3.8" text-anchor="end" font-weight="bold" class="b" fill="#222">50%</text>
<line x1="298.50" y1="54.80" x2="300.50" y2="54.80" stroke="#555" stroke-width="0.6"/>
<text x="298.10" y="56.10" font-size="3.8" text-anchor="end" font-weight="bold" class="b" fill="#222">60%</text>
<line x1="298.50" y1="41.85" x2="300.50" y2="41.85" stroke="#555" stroke-width="0.6"/>
<text x="298.10" y="43.15" font-size="3.8" text-anchor="end" font-weight="bold" class="b" fill="#222">70%</text>
<line x1="298.50" y1="28.90" x2="300.50" y2="28.90" stroke="#555" stroke-width="0.6"/>
<text x="298.10" y="30.20" font-size="3.8" text-anchor="end" font-weight="bold" class="b" fill="#222">80%</text>
<text x="0" y="0" font-size="3.9" class="m" text-anchor="middle" textLength="43.00" lengthAdjust="spacingAndGlyphs" transform="translate(283.60 78.00) rotate(-90)">Percentage of patients</text>
<polygon points="321.75,52.56 324.95,49.96 324.95,127.60 321.75,130.20" fill="#0e0e0e" stroke="#222" stroke-width="0.35" stroke-linejoin="round"/>
<polygon points="311.30,52.56 314.50,49.96 324.95,49.96 321.75,52.56" fill="#303030" stroke="#222" stroke-width="0.35" stroke-linejoin="round"/>
<polygon points="311.30,52.56 321.75,52.56 321.75,130.20 311.30,130.20" fill="#1c1c1c" stroke="#222" stroke-width="0.4" stroke-linejoin="round"/>
<polygon points="332.20,112.08 335.40,109.48 335.40,127.60 332.20,130.20" fill="#3e3e3e" stroke="#222" stroke-width="0.35" stroke-linejoin="round"/>
<polygon points="321.75,112.08 324.95,109.48 335.40,109.48 332.20,112.08" fill="#4a4a4a" stroke="#222" stroke-width="0.35" stroke-linejoin="round"/>
<polygon points="321.75,112.08 332.20,112.08 332.20,130.20 321.75,130.20" fill="#6b6b6b" stroke="#222" stroke-width="0.4" stroke-linejoin="round"/>
<polygon points="342.65,91.38 345.85,88.78 345.85,127.60 342.65,130.20" fill="#4a4a4a" stroke="#222" stroke-width="0.35" stroke-linejoin="round"/>
<polygon points="332.20,91.38 335.40,88.78 345.85,88.78 342.65,91.38" fill="#6e6e6e" stroke="#222" stroke-width="0.35" stroke-linejoin="round"/>
<polygon points="332.20,91.38 342.65,91.38 342.65,130.20 332.20,130.20" fill="#b4b4b4" stroke="#222" stroke-width="0.4" stroke-linejoin="round"/>
<polygon points="353.10,87.50 356.30,84.90 356.30,127.60 353.10,130.20" fill="#7a7a7a" stroke="#222" stroke-width="0.35" stroke-linejoin="round"/>
<polygon points="342.65,87.50 345.85,84.90 356.30,84.90 353.10,87.50" fill="#bdbdbd" stroke="#222" stroke-width="0.35" stroke-linejoin="round"/>
<polygon points="342.65,87.50 353.10,87.50 353.10,130.20 342.65,130.20" fill="#ffffff" stroke="#222" stroke-width="0.4" stroke-linejoin="round"/>
<polygon points="379.50,30.56 382.70,27.96 382.70,127.60 379.50,130.20" fill="#0e0e0e" stroke="#222" stroke-width="0.35" stroke-linejoin="round"/>
<polygon points="369.05,30.56 372.25,27.96 382.70,27.96 379.50,30.56" fill="#303030" stroke="#222" stroke-width="0.35" stroke-linejoin="round"/>
<polygon points="369.05,30.56 379.50,30.56 379.50,130.20 369.05,130.20" fill="#1c1c1c" stroke="#222" stroke-width="0.4" stroke-linejoin="round"/>
<polygon points="389.95,49.97 393.15,47.37 393.15,127.60 389.95,130.20" fill="#3e3e3e" stroke="#222" stroke-width="0.35" stroke-linejoin="round"/>
<polygon points="379.50,49.97 382.70,47.37 393.15,47.37 389.95,49.97" fill="#4a4a4a" stroke="#222" stroke-width="0.35" stroke-linejoin="round"/>
<polygon points="379.50,49.97 389.95,49.97 389.95,130.20 379.50,130.20" fill="#6b6b6b" stroke="#222" stroke-width="0.4" stroke-linejoin="round"/>
<polygon points="400.40,110.79 403.60,108.19 403.60,127.60 400.40,130.20" fill="#4a4a4a" stroke="#222" stroke-width="0.35" stroke-linejoin="round"/>
<polygon points="389.95,110.79 393.15,108.19 403.60,108.19 400.40,110.79" fill="#6e6e6e" stroke="#222" stroke-width="0.35" stroke-linejoin="round"/>
<polygon points="389.95,110.79 400.40,110.79 400.40,130.20 389.95,130.20" fill="#b4b4b4" stroke="#222" stroke-width="0.4" stroke-linejoin="round"/>
<polygon points="410.85,87.50 414.05,84.90 414.05,127.60 410.85,130.20" fill="#7a7a7a" stroke="#222" stroke-width="0.35" stroke-linejoin="round"/>
<polygon points="400.40,87.50 403.60,84.90 414.05,84.90 410.85,87.50" fill="#bdbdbd" stroke="#222" stroke-width="0.35" stroke-linejoin="round"/>
<polygon points="400.40,87.50 410.85,87.50 410.85,130.20 400.40,130.20" fill="#ffffff" stroke="#222" stroke-width="0.4" stroke-linejoin="round"/>
<polygon points="437.25,27.97 440.45,25.37 440.45,127.60 437.25,130.20" fill="#0e0e0e" stroke="#222" stroke-width="0.35" stroke-linejoin="round"/>
<polygon points="426.80,27.97 430.00,25.37 440.45,25.37 437.25,27.97" fill="#303030" stroke="#222" stroke-width="0.35" stroke-linejoin="round"/>
<polygon points="426.80,27.97 437.25,27.97 437.25,130.20 426.80,130.20" fill="#1c1c1c" stroke="#222" stroke-width="0.4" stroke-linejoin="round"/>
<polygon points="447.70,52.56 450.90,49.96 450.90,127.60 447.70,130.20" fill="#3e3e3e" stroke="#222" stroke-width="0.35" stroke-linejoin="round"/>
<polygon points="437.25,52.56 440.45,49.96 450.90,49.96 447.70,52.56" fill="#4a4a4a" stroke="#222" stroke-width="0.35" stroke-linejoin="round"/>
<polygon points="437.25,52.56 447.70,52.56 447.70,130.20 437.25,130.20" fill="#6b6b6b" stroke="#222" stroke-width="0.4" stroke-linejoin="round"/>
<polygon points="458.15,38.33 461.35,35.73 461.35,127.60 458.15,130.20" fill="#4a4a4a" stroke="#222" stroke-width="0.35" stroke-linejoin="round"/>
<polygon points="447.70,38.33 450.90,35.73 461.35,35.73 458.15,38.33" fill="#6e6e6e" stroke="#222" stroke-width="0.35" stroke-linejoin="round"/>
<polygon points="447.70,38.33 458.15,38.33 458.15,130.20 447.70,130.20" fill="#b4b4b4" stroke="#222" stroke-width="0.4" stroke-linejoin="round"/>
<polygon points="468.60,48.68 471.80,46.08 471.80,127.60 468.60,130.20" fill="#7a7a7a" stroke="#222" stroke-width="0.35" stroke-linejoin="round"/>
<polygon points="458.15,48.68 461.35,46.08 471.80,46.08 468.60,48.68" fill="#bdbdbd" stroke="#222" stroke-width="0.35" stroke-linejoin="round"/>
<polygon points="458.15,48.68 468.60,48.68 468.60,130.20 458.15,130.20" fill="#ffffff" stroke="#222" stroke-width="0.4" stroke-linejoin="round"/>
<text x="318.77" y="47.56" font-size="3.8" text-anchor="middle" font-weight="bold" class="b" fill="#222">60%</text>
<text x="329.22" y="107.08" font-size="3.8" text-anchor="middle" font-weight="bold" class="b" fill="#222">14%</text>
<text x="339.67" y="86.38" font-size="3.8" text-anchor="middle" font-weight="bold" class="b" fill="#222">30%</text>
<text x="350.12" y="82.50" font-size="3.8" text-anchor="middle" font-weight="bold" class="b" fill="#222">33%</text>
<text x="376.52" y="25.56" font-size="3.8" text-anchor="middle" font-weight="bold" class="b" fill="#222">77%</text>
<text x="386.97" y="44.97" font-size="3.8" text-anchor="middle" font-weight="bold" class="b" fill="#222">62%</text>
<text x="397.42" y="105.79" font-size="3.8" text-anchor="middle" font-weight="bold" class="b" fill="#222">15%</text>
<text x="407.87" y="82.50" font-size="3.8" text-anchor="middle" font-weight="bold" class="b" fill="#222">33%</text>
<text x="434.27" y="22.97" font-size="3.8" text-anchor="middle" font-weight="bold" class="b" fill="#222">79%</text>
<text x="444.72" y="47.56" font-size="3.8" text-anchor="middle" font-weight="bold" class="b" fill="#222">60%</text>
<text x="455.17" y="33.33" font-size="3.8" text-anchor="middle" font-weight="bold" class="b" fill="#222">71%</text>
<text x="465.62" y="43.68" font-size="3.8" text-anchor="middle" font-weight="bold" class="b" fill="#222">63%</text>
<text x="329.50" y="139.40" font-size="3.9" text-anchor="middle" class="m">6 months</text>
<text x="385.90" y="139.90" font-size="3.9" text-anchor="middle" class="m">1 year</text>
<text x="445.20" y="140.30" font-size="3.9" text-anchor="middle" class="m">2 years</text>
<text x="367.90" y="147.10" font-size="3.6" text-anchor="start" font-weight="bold" class="b" fill="#222" textLength="39.30" lengthAdjust="spacingAndGlyphs">Time post transplant</text>
<rect x="500.30" y="74.50" width="2.4" height="2.4" fill="#1c1c1c" stroke="#222" stroke-width="0.35"/>
<text x="503.90" y="77.10" font-size="4.0" text-anchor="start" class="m">MSD</text>
<rect x="500.30" y="81.90" width="2.4" height="2.4" fill="#6b6b6b" stroke="#222" stroke-width="0.35"/>
<text x="503.90" y="84.50" font-size="4.0" text-anchor="start" class="m">MFD</text>
<rect x="500.30" y="89.30" width="2.4" height="2.4" fill="#b4b4b4" stroke="#222" stroke-width="0.35"/>
<text x="503.90" y="91.90" font-size="4.0" text-anchor="start" class="m">MUD</text>
<rect x="500.30" y="96.70" width="2.4" height="2.4" fill="#ffffff" stroke="#222" stroke-width="0.35"/>
<text x="503.90" y="99.30" font-size="4.0" text-anchor="start" class="m">Haplo</text>
<text x="273.10" y="8.20" font-size="8" font-weight="bold" class="T" textLength="240.30" lengthAdjust="spacingAndGlyphs">CD3 recovery – proportion of patients with CD3 &gt;1000 cells/mm</text>
<text x="513.80" y="5.00" font-size="4.4" font-weight="bold">3</text>
<polygon points="295.60,289.60 468.50,289.60 477.30,282.60 304.40,282.60" fill="#8a8a8a"/>
<polygon points="295.60,289.60 468.50,289.60 477.30,282.60 477.30,283.80 468.50,287.60 295.60,287.60" fill="#8a8a8a"/>
<polygon points="295.90,287.60 468.50,287.60 468.50,289.60 295.60,289.60" fill="#4e4e4e"/>
<polygon points="468.50,287.60 477.30,282.00 477.30,282.60 468.50,289.60" fill="#5a5a5a"/>
<line x1="295.60" y1="289.60" x2="468.50" y2="289.60" stroke="#333" stroke-width="0.7"/>
<line x1="353.23" y1="289.60" x2="353.23" y2="291.10" stroke="#333" stroke-width="0.6"/>
<line x1="410.87" y1="289.60" x2="410.87" y2="291.10" stroke="#333" stroke-width="0.6"/>
<line x1="295.60" y1="185.80" x2="295.60" y2="289.60" stroke="#555" stroke-width="0.65"/>
<line x1="293.60" y1="289.60" x2="295.60" y2="289.60" stroke="#555" stroke-width="0.6"/>
<text x="293.20" y="290.90" font-size="3.8" text-anchor="end" font-weight="bold" class="b" fill="#222">0%</text>
<line x1="293.60" y1="279.22" x2="295.60" y2="279.22" stroke="#555" stroke-width="0.6"/>
<text x="293.20" y="280.52" font-size="3.8" text-anchor="end" font-weight="bold" class="b" fill="#222">10%</text>
<line x1="293.60" y1="268.84" x2="295.60" y2="268.84" stroke="#555" stroke-width="0.6"/>
<text x="293.20" y="270.14" font-size="3.8" text-anchor="end" font-weight="bold" class="b" fill="#222">20%</text>
<line x1="293.60" y1="258.46" x2="295.60" y2="258.46" stroke="#555" stroke-width="0.6"/>
<text x="293.20" y="259.76" font-size="3.8" text-anchor="end" font-weight="bold" class="b" fill="#222">30%</text>
<line x1="293.60" y1="248.08" x2="295.60" y2="248.08" stroke="#555" stroke-width="0.6"/>
<text x="293.20" y="249.38" font-size="3.8" text-anchor="end" font-weight="bold" class="b" fill="#222">40%</text>
<line x1="293.60" y1="237.70" x2="295.60" y2="237.70" stroke="#555" stroke-width="0.6"/>
<text x="293.20" y="239.00" font-size="3.8" text-anchor="end" font-weight="bold" class="b" fill="#222">50%</text>
<line x1="293.60" y1="227.32" x2="295.60" y2="227.32" stroke="#555" stroke-width="0.6"/>
<text x="293.20" y="228.62" font-size="3.8" text-anchor="end" font-weight="bold" class="b" fill="#222">60%</text>
<line x1="293.60" y1="216.94" x2="295.60" y2="216.94" stroke="#555" stroke-width="0.6"/>
<text x="293.20" y="218.24" font-size="3.8" text-anchor="end" font-weight="bold" class="b" fill="#222">70%</text>
<line x1="293.60" y1="206.56" x2="295.60" y2="206.56" stroke="#555" stroke-width="0.6"/>
<text x="293.20" y="207.86" font-size="3.8" text-anchor="end" font-weight="bold" class="b" fill="#222">80%</text>
<line x1="293.60" y1="196.18" x2="295.60" y2="196.18" stroke="#555" stroke-width="0.6"/>
<text x="293.20" y="197.48" font-size="3.8" text-anchor="end" font-weight="bold" class="b" fill="#222">90%</text>
<line x1="293.60" y1="185.80" x2="295.60" y2="185.80" stroke="#555" stroke-width="0.6"/>
<text x="293.20" y="187.10" font-size="3.8" text-anchor="end" font-weight="bold" class="b" fill="#222">100%</text>
<text x="0" y="0" font-size="3.9" class="m" text-anchor="middle" textLength="41.00" lengthAdjust="spacingAndGlyphs" transform="translate(279.80 235.20) rotate(-90)">Percentage of patients</text>
<polygon points="315.80,224.62 319.20,222.02 319.20,284.30 315.80,286.90" fill="#0e0e0e" stroke="#222" stroke-width="0.35" stroke-linejoin="round"/>
<polygon points="305.30,224.62 308.70,222.02 319.20,222.02 315.80,224.62" fill="#303030" stroke="#222" stroke-width="0.35" stroke-linejoin="round"/>
<polygon points="305.30,224.62 315.80,224.62 315.80,286.90 305.30,286.90" fill="#1c1c1c" stroke="#222" stroke-width="0.4" stroke-linejoin="round"/>
<polygon points="326.30,272.37 329.70,269.77 329.70,284.30 326.30,286.90" fill="#3e3e3e" stroke="#222" stroke-width="0.35" stroke-linejoin="round"/>
<polygon points="315.80,272.37 319.20,269.77 329.70,269.77 326.30,272.37" fill="#4a4a4a" stroke="#222" stroke-width="0.35" stroke-linejoin="round"/>
<polygon points="315.80,272.37 326.30,272.37 326.30,286.90 315.80,286.90" fill="#6b6b6b" stroke="#222" stroke-width="0.4" stroke-linejoin="round"/>
<polygon points="336.80,252.65 340.20,250.05 340.20,284.30 336.80,286.90" fill="#4a4a4a" stroke="#222" stroke-width="0.35" stroke-linejoin="round"/>
<polygon points="326.30,252.65 329.70,250.05 340.20,250.05 336.80,252.65" fill="#6e6e6e" stroke="#222" stroke-width="0.35" stroke-linejoin="round"/>
<polygon points="326.30,252.65 336.80,252.65 336.80,286.90 326.30,286.90" fill="#b4b4b4" stroke="#222" stroke-width="0.4" stroke-linejoin="round"/>
<polygon points="347.30,241.23 350.70,238.63 350.70,284.30 347.30,286.90" fill="#7a7a7a" stroke="#222" stroke-width="0.35" stroke-linejoin="round"/>
<polygon points="336.80,241.23 340.20,238.63 350.70,238.63 347.30,241.23" fill="#bdbdbd" stroke="#222" stroke-width="0.35" stroke-linejoin="round"/>
<polygon points="336.80,241.23 347.30,241.23 347.30,286.90 336.80,286.90" fill="#ffffff" stroke="#222" stroke-width="0.4" stroke-linejoin="round"/>
<polygon points="374.00,206.97 377.40,204.37 377.40,284.30 374.00,286.90" fill="#0e0e0e" stroke="#222" stroke-width="0.35" stroke-linejoin="round"/>
<polygon points="363.50,206.97 366.90,204.37 377.40,204.37 374.00,206.97" fill="#303030" stroke="#222" stroke-width="0.35" stroke-linejoin="round"/>
<polygon points="363.50,206.97 374.00,206.97 374.00,286.90 363.50,286.90" fill="#1c1c1c" stroke="#222" stroke-width="0.4" stroke-linejoin="round"/>
<polygon points="384.50,222.54 387.90,219.94 387.90,284.30 384.50,286.90" fill="#3e3e3e" stroke="#222" stroke-width="0.35" stroke-linejoin="round"/>
<polygon points="374.00,222.54 377.40,219.94 387.90,219.94 384.50,222.54" fill="#4a4a4a" stroke="#222" stroke-width="0.35" stroke-linejoin="round"/>
<polygon points="374.00,222.54 384.50,222.54 384.50,286.90 374.00,286.90" fill="#6b6b6b" stroke="#222" stroke-width="0.4" stroke-linejoin="round"/>
<polygon points="395.00,213.20 398.40,210.60 398.40,284.30 395.00,286.90" fill="#4a4a4a" stroke="#222" stroke-width="0.35" stroke-linejoin="round"/>
<polygon points="384.50,213.20 387.90,210.60 398.40,210.60 395.00,213.20" fill="#6e6e6e" stroke="#222" stroke-width="0.35" stroke-linejoin="round"/>
<polygon points="384.50,213.20 395.00,213.20 395.00,286.90 384.50,286.90" fill="#b4b4b4" stroke="#222" stroke-width="0.4" stroke-linejoin="round"/>
<polygon points="405.50,217.35 408.90,214.75 408.90,284.30 405.50,286.90" fill="#7a7a7a" stroke="#222" stroke-width="0.35" stroke-linejoin="round"/>
<polygon points="395.00,217.35 398.40,214.75 408.90,214.75 405.50,217.35" fill="#bdbdbd" stroke="#222" stroke-width="0.35" stroke-linejoin="round"/>
<polygon points="395.00,217.35 405.50,217.35 405.50,286.90 395.00,286.90" fill="#ffffff" stroke="#222" stroke-width="0.4" stroke-linejoin="round"/>
<polygon points="432.20,204.90 435.60,202.30 435.60,284.30 432.20,286.90" fill="#0e0e0e" stroke="#222" stroke-width="0.35" stroke-linejoin="round"/>
<polygon points="421.70,204.90 425.10,202.30 435.60,202.30 432.20,204.90" fill="#303030" stroke="#222" stroke-width="0.35" stroke-linejoin="round"/>
<polygon points="421.70,204.90 432.20,204.90 432.20,286.90 421.70,286.90" fill="#1c1c1c" stroke="#222" stroke-width="0.4" stroke-linejoin="round"/>
<polygon points="442.70,183.10 446.10,180.50 446.10,284.30 442.70,286.90" fill="#3e3e3e" stroke="#222" stroke-width="0.35" stroke-linejoin="round"/>
<polygon points="432.20,183.10 435.60,180.50 446.10,180.50 442.70,183.10" fill="#4a4a4a" stroke="#222" stroke-width="0.35" stroke-linejoin="round"/>
<polygon points="432.20,183.10 442.70,183.10 442.70,286.90 432.20,286.90" fill="#6b6b6b" stroke="#222" stroke-width="0.4" stroke-linejoin="round"/>
<polygon points="453.20,195.56 456.60,192.96 456.60,284.30 453.20,286.90" fill="#4a4a4a" stroke="#222" stroke-width="0.35" stroke-linejoin="round"/>
<polygon points="442.70,195.56 446.10,192.96 456.60,192.96 453.20,195.56" fill="#6e6e6e" stroke="#222" stroke-width="0.35" stroke-linejoin="round"/>
<polygon points="442.70,195.56 453.20,195.56 453.20,286.90 442.70,286.90" fill="#b4b4b4" stroke="#222" stroke-width="0.4" stroke-linejoin="round"/>
<polygon points="463.70,183.10 467.10,180.50 467.10,284.30 463.70,286.90" fill="#7a7a7a" stroke="#222" stroke-width="0.35" stroke-linejoin="round"/>
<polygon points="453.20,183.10 456.60,180.50 467.10,180.50 463.70,183.10" fill="#bdbdbd" stroke="#222" stroke-width="0.35" stroke-linejoin="round"/>
<polygon points="453.20,183.10 463.70,183.10 463.70,286.90 453.20,286.90" fill="#ffffff" stroke="#222" stroke-width="0.4" stroke-linejoin="round"/>
<text x="312.93" y="219.62" font-size="3.8" text-anchor="middle" font-weight="bold" class="b" fill="#222">60%</text>
<text x="323.43" y="267.37" font-size="3.8" text-anchor="middle" font-weight="bold" class="b" fill="#222">14%</text>
<text x="333.93" y="247.65" font-size="3.8" text-anchor="middle" font-weight="bold" class="b" fill="#222">33%</text>
<text x="344.43" y="236.23" font-size="3.8" text-anchor="middle" font-weight="bold" class="b" fill="#222">44%</text>
<text x="371.13" y="201.97" font-size="3.8" text-anchor="middle" font-weight="bold" class="b" fill="#222">77%</text>
<text x="381.63" y="217.54" font-size="3.8" text-anchor="middle" font-weight="bold" class="b" fill="#222">62%</text>
<text x="392.13" y="208.20" font-size="3.8" text-anchor="middle" font-weight="bold" class="b" fill="#222">71%</text>
<text x="402.63" y="212.35" font-size="3.8" text-anchor="middle" font-weight="bold" class="b" fill="#222">67%</text>
<text x="429.33" y="199.90" font-size="3.8" text-anchor="middle" font-weight="bold" class="b" fill="#222">79%</text>
<text x="439.83" y="178.10" font-size="3.8" text-anchor="middle" font-weight="bold" class="b" fill="#222">100%</text>
<text x="450.33" y="190.56" font-size="3.8" text-anchor="middle" font-weight="bold" class="b" fill="#222">88%</text>
<text x="460.83" y="178.10" font-size="3.8" text-anchor="middle" font-weight="bold" class="b" fill="#222">100%</text>
<text x="324.00" y="296.50" font-size="3.9" text-anchor="middle" class="m">6 months</text>
<text x="381.80" y="296.50" font-size="3.9" text-anchor="middle" class="m">1 year</text>
<text x="440.00" y="296.50" font-size="3.9" text-anchor="middle" class="m">2 years</text>
<text x="362.50" y="304.20" font-size="3.6" text-anchor="start" font-weight="bold" class="b" fill="#222" textLength="38.70" lengthAdjust="spacingAndGlyphs">Time post transplant</text>
<rect x="494.20" y="231.40" width="2.4" height="2.4" fill="#1c1c1c" stroke="#222" stroke-width="0.35"/>
<text x="497.80" y="234.00" font-size="4.0" text-anchor="start" class="m">MSD</text>
<rect x="494.20" y="238.70" width="2.4" height="2.4" fill="#6b6b6b" stroke="#222" stroke-width="0.35"/>
<text x="497.80" y="241.30" font-size="4.0" text-anchor="start" class="m">MFD</text>
<rect x="494.20" y="246.00" width="2.4" height="2.4" fill="#b4b4b4" stroke="#222" stroke-width="0.35"/>
<text x="497.80" y="248.60" font-size="4.0" text-anchor="start" class="m">MUD</text>
<rect x="494.20" y="253.30" width="2.4" height="2.4" fill="#ffffff" stroke="#222" stroke-width="0.35"/>
<text x="497.80" y="255.90" font-size="4.0" text-anchor="start" class="m">Haplo</text>
<text x="275.80" y="162.80" font-size="8" font-weight="bold" class="T" textLength="235.70" lengthAdjust="spacingAndGlyphs">CD4 recovery – proportion of patients with CD4 &gt;300 cells/mm</text>
<text x="511.90" y="159.60" font-size="4.4" font-weight="bold">3</text>
<line x1="250.20" y1="335.30" x2="395.00" y2="335.30" stroke="#707070" stroke-width="1.0"/>
<line x1="250.20" y1="342.90" x2="395.00" y2="342.90" stroke="#707070" stroke-width="1.0"/>
<line x1="250.20" y1="349.50" x2="395.00" y2="349.50" stroke="#707070" stroke-width="1.0"/>
<line x1="250.20" y1="356.10" x2="395.00" y2="356.10" stroke="#707070" stroke-width="1.0"/>
<line x1="250.20" y1="362.60" x2="395.00" y2="362.60" stroke="#707070" stroke-width="1.0"/>
<line x1="250.20" y1="368.90" x2="395.00" y2="368.90" stroke="#707070" stroke-width="1.0"/>
<rect x="250.2" y="326.3" width="144.80" height="48.90" fill="none" stroke="#333" stroke-width="0.8"/>
<line x1="346.90" y1="326.30" x2="346.90" y2="375.20" stroke="#333" stroke-width="0.7"/>
<text x="252.00" y="331.80" font-size="4.0" text-anchor="start" fill="#333" textLength="92.00" lengthAdjust="spacingAndGlyphs">Comparison between different types of transplant</text>
<text x="349.30" y="331.80" font-size="4.0" text-anchor="start" fill="#333" textLength="37.50" lengthAdjust="spacingAndGlyphs">Significance (p value)</text>
<text x="252.20" y="340.10" font-size="4.0" text-anchor="start" fill="#333" textLength="19.00" lengthAdjust="spacingAndGlyphs">MSD/MFD</text>
<text x="349.30" y="340.10" font-size="4.0" text-anchor="start" fill="#333" textLength="7.40" lengthAdjust="spacingAndGlyphs">0.21</text>
<text x="252.20" y="347.70" font-size="4.0" text-anchor="start" fill="#333" textLength="19.60" lengthAdjust="spacingAndGlyphs">MSD/MUD</text>
<text x="349.30" y="347.70" font-size="4.0" text-anchor="start" fill="#333" textLength="7.40" lengthAdjust="spacingAndGlyphs">0.04</text>
<text x="252.20" y="354.30" font-size="4.0" text-anchor="start" fill="#333" textLength="22.60" lengthAdjust="spacingAndGlyphs">MSD/HAPLO</text>
<text x="349.30" y="354.30" font-size="4.0" text-anchor="start" fill="#333" textLength="7.40" lengthAdjust="spacingAndGlyphs">0.35</text>
<text x="252.20" y="360.90" font-size="4.0" text-anchor="start" fill="#333" textLength="19.30" lengthAdjust="spacingAndGlyphs">MFD/MUD</text>
<text x="349.30" y="360.90" font-size="4.0" text-anchor="start" fill="#333" textLength="7.40" lengthAdjust="spacingAndGlyphs">0.01</text>
<text x="252.20" y="367.40" font-size="4.0" text-anchor="start" fill="#333" textLength="22.60" lengthAdjust="spacingAndGlyphs">MFD/HAPLO</text>
<text x="349.30" y="367.40" font-size="4.0" text-anchor="start" fill="#333" textLength="7.40" lengthAdjust="spacingAndGlyphs">0.12</text>
<text x="252.20" y="373.70" font-size="4.0" text-anchor="start" fill="#333" textLength="23.20" lengthAdjust="spacingAndGlyphs">MUD/HAPLO</text>
<text x="349.30" y="373.70" font-size="4.0" text-anchor="start" fill="#333" textLength="7.40" lengthAdjust="spacingAndGlyphs">0.14</text>
</svg></body></html>
